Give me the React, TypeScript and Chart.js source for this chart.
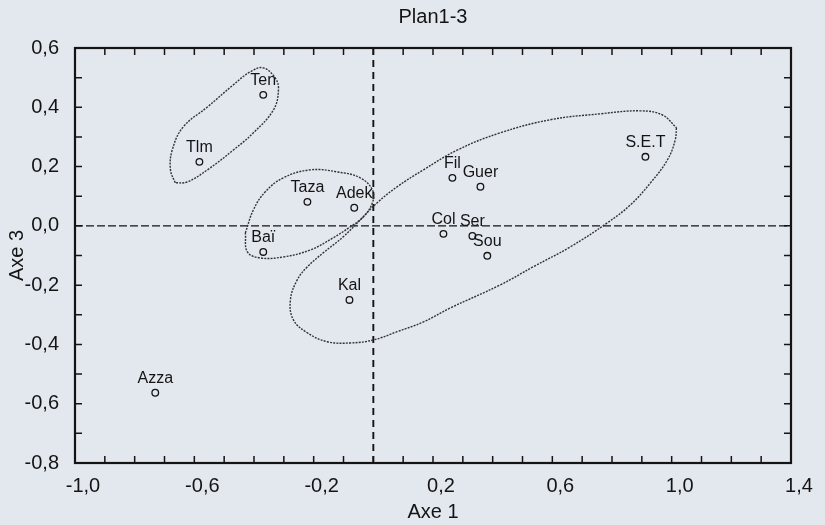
import React, { useEffect, useRef } from 'react';
import { Chart, registerables } from 'chart.js';

Chart.register(...registerables);

// ---- data ----
const siteNames = ['Ten', 'Tlm', 'Taza', 'Adek', 'Baï', 'Kal', 'Azza', 'Fil', 'Guer', 'Col', 'Ser', 'Sou', 'S.E.T'];
const axe1Values = [-0.369, -0.583, -0.221, -0.064, -0.369, -0.080, -0.731, 0.265, 0.359, 0.235, 0.332, 0.382, 0.912];
const axe3Values = [0.442, 0.216, 0.081, 0.061, -0.088, -0.250, -0.563, 0.162, 0.132, -0.027, -0.034, -0.101, 0.233];

// hand-drawn group outlines (axis units)
const groupAX = [-0.664, -0.680, -0.674, -0.637, -0.556, -0.469, -0.412, -0.369, -0.329, -0.318, -0.335, -0.402, -0.469, -0.556, -0.624];
const groupAY = [0.145, 0.189, 0.256, 0.334, 0.401, 0.476, 0.520, 0.533, 0.499, 0.459, 0.391, 0.314, 0.256, 0.189, 0.148];

const groupBX = [-0.429, -0.402, -0.362, -0.302, -0.211, -0.121, -0.044, -0.003, -0.003, -0.034, -0.077, -0.134, -0.211, -0.302, -0.379, -0.422];
const groupBY = [-0.024, 0.054, 0.115, 0.162, 0.189, 0.182, 0.162, 0.121, 0.078, 0.030, -0.003, -0.040, -0.081, -0.105, -0.108, -0.088];

const groupCX = [1.016, 1.012, 0.986, 0.929, 0.862, 0.784, 0.660, 0.536, 0.426, 0.258, 0.168, 0.080, 0.000, -0.077, -0.154, -0.221, -0.268, -0.278, -0.255, -0.221, -0.168, -0.101, -0.044, 0.013, 0.080, 0.168, 0.282, 0.426, 0.593, 0.761, 0.895, 0.969];
const groupCY = [0.331, 0.290, 0.223, 0.145, 0.071, 0.010, -0.071, -0.138, -0.199, -0.277, -0.324, -0.357, -0.385, -0.395, -0.391, -0.361, -0.317, -0.250, -0.182, -0.138, -0.091, -0.037, 0.020, 0.078, 0.132, 0.189, 0.256, 0.314, 0.358, 0.378, 0.388, 0.374];

const xTickValues = [-1.0, -0.6, -0.2, 0.2, 0.6, 1.0, 1.4];
const xTickLabels = ['-1,0', '-0,6', '-0,2', '0,2', '0,6', '1,0', '1,4'];
const yTickValues = [0.6, 0.4, 0.2, 0.0, -0.2, -0.4, -0.6, -0.8];
const yTickLabels = ['0,6', '0,4', '0,2', '0,0', '-0,2', '-0,4', '-0,6', '-0,8'];

const chartTitle = 'Plan1-3';
const xTitle = 'Axe 1';
const yTitle = 'Axe 3';

const FONT = "'Liberation Sans', Arial, Helvetica, sans-serif";
const INK = '#141414';
const BG = '#e3e7ee';

const closedLoop = (xs: number[], ys: number[]) => {
  const pts = xs.map((x, i) => ({ x, y: ys[i] }));
  pts.push({ x: xs[0], y: ys[0] });
  return pts;
};

const pickLabel = (values: number[], labels: string[]) => (v: any) => {
  const i = values.findIndex((t) => Math.abs(t - Number(v)) < 1e-6);
  return i >= 0 ? labels[i] : '';
};

const decorPlugin = {
  id: 'decor',
  beforeDraw(chart: any) {
    const { ctx, width, height } = chart;
    ctx.save();
    ctx.fillStyle = BG;
    ctx.fillRect(0, 0, width, height);
    ctx.restore();
  },
  beforeDatasetsDraw(chart: any) {
    const { ctx, chartArea: a, scales } = chart;
    const x0 = scales.x.getPixelForValue(0);
    const y0 = scales.y.getPixelForValue(0);
    ctx.save();
    ctx.strokeStyle = INK;
    ctx.lineWidth = 1.9;
    ctx.setLineDash([7, 5]);
    ctx.beginPath();
    ctx.moveTo(x0, a.top);
    ctx.lineTo(x0, a.bottom);
    ctx.stroke();
    ctx.lineWidth = 1.3;
    ctx.setLineDash([8, 3]);
    ctx.beginPath();
    ctx.moveTo(a.left, y0);
    ctx.lineTo(a.right, y0);
    ctx.stroke();
    ctx.restore();
  },
  afterDatasetsDraw(chart: any) {
    const { ctx, chartArea: a, scales } = chart;
    ctx.save();
    // frame
    ctx.strokeStyle = INK;
    ctx.lineWidth = 2.2;
    ctx.setLineDash([]);
    ctx.strokeRect(a.left, a.top, a.right - a.left, a.bottom - a.top);
    // inward ticks on all four sides
    const tl = 7;
    ctx.lineWidth = 1.5;
    ctx.beginPath();
    scales.x.ticks.forEach((t: any) => {
      const px = scales.x.getPixelForValue(t.value);
      if (px <= a.left + 1 || px >= a.right - 1) return;
      ctx.moveTo(px, a.bottom);
      ctx.lineTo(px, a.bottom - tl);
      ctx.moveTo(px, a.top);
      ctx.lineTo(px, a.top + tl);
    });
    scales.y.ticks.forEach((t: any) => {
      const py = scales.y.getPixelForValue(t.value);
      if (py <= a.top + 1 || py >= a.bottom - 1) return;
      ctx.moveTo(a.left, py);
      ctx.lineTo(a.left + tl, py);
      ctx.moveTo(a.right, py);
      ctx.lineTo(a.right - tl, py);
    });
    ctx.stroke();
    // point labels
    const meta = chart.getDatasetMeta(3);
    ctx.fillStyle = INK;
    ctx.font = `16px ${FONT}`;
    ctx.textAlign = 'center';
    ctx.textBaseline = 'middle';
    meta.data.forEach((el: any, i: number) => {
      ctx.fillText(siteNames[i], el.x, el.y - 14);
    });
    ctx.restore();
  },
};

export default function App() {
  const ref = useRef<HTMLCanvasElement | null>(null);

  useEffect(() => {
    if (!ref.current) return;
    const loopStyle = {
      showLine: true,
      pointRadius: 0,
      pointHoverRadius: 0,
      borderColor: '#333333',
      borderWidth: 1.4,
      borderDash: [2, 1.2],
      tension: 0.4,
      fill: false,
    };
    const chart = new Chart(ref.current, {
      type: 'scatter',
      data: {
        datasets: [
          { ...loopStyle, label: 'g1', data: closedLoop(groupAX, groupAY) },
          { ...loopStyle, label: 'g2', data: closedLoop(groupBX, groupBY) },
          { ...loopStyle, label: 'g3', data: closedLoop(groupCX, groupCY) },
          {
            label: 'sites',
            data: axe1Values.map((x, i) => ({ x, y: axe3Values[i] })),
            pointStyle: 'circle',
            pointRadius: 3.3,
            pointBorderWidth: 1.3,
            pointBorderColor: INK,
            pointBackgroundColor: 'rgba(0,0,0,0)',
            showLine: false,
          },
        ],
      },
      options: {
        animation: false,
        responsive: true,
        maintainAspectRatio: false,
        layout: { padding: { left: 0, right: 34, top: 0, bottom: 0 } },
        plugins: {
          legend: { display: false },
          tooltip: { enabled: false },
          title: {
            display: true,
            text: chartTitle,
            fullSize: false,
            color: INK,
            font: { family: FONT, size: 20, weight: 'normal' },
            padding: { top: 5, bottom: 19 },
          },
        },
        scales: {
          x: {
            type: 'linear',
            min: -1.0,
            max: 1.4,
            grid: { display: false },
            border: { display: false },
            ticks: {
              stepSize: 0.1,
              autoSkip: false,
              maxRotation: 0,
              padding: 3,
              labelOffset: 8,
              color: INK,
              font: { family: FONT, size: 20 },
              callback: pickLabel(xTickValues, xTickLabels),
            },
            title: {
              display: true,
              text: xTitle,
              color: INK,
              font: { family: FONT, size: 20 },
              padding: { top: 0, bottom: 1 },
            },
            afterFit: (s: any) => {
              s.height = 62;
            },
          },
          y: {
            type: 'linear',
            min: -0.8,
            max: 0.6,
            grid: { display: false },
            border: { display: false },
            ticks: {
              stepSize: 0.1,
              autoSkip: false,
              padding: 8,
              color: INK,
              font: { family: FONT, size: 20 },
              callback: pickLabel(yTickValues, yTickLabels),
            },
            title: {
              display: true,
              text: yTitle,
              color: INK,
              font: { family: FONT, size: 20 },
              padding: { top: 5, bottom: 0 },
            },
            afterFit: (s: any) => {
              s.width = 75;
            },
          },
        },
      },
      plugins: [decorPlugin],
    });
    return () => chart.destroy();
  }, []);

  return (
    <div style={{ position: 'fixed', left: 0, top: 0, width: 825, height: 525, background: BG }}>
      <canvas ref={ref} />
    </div>
  );
}
